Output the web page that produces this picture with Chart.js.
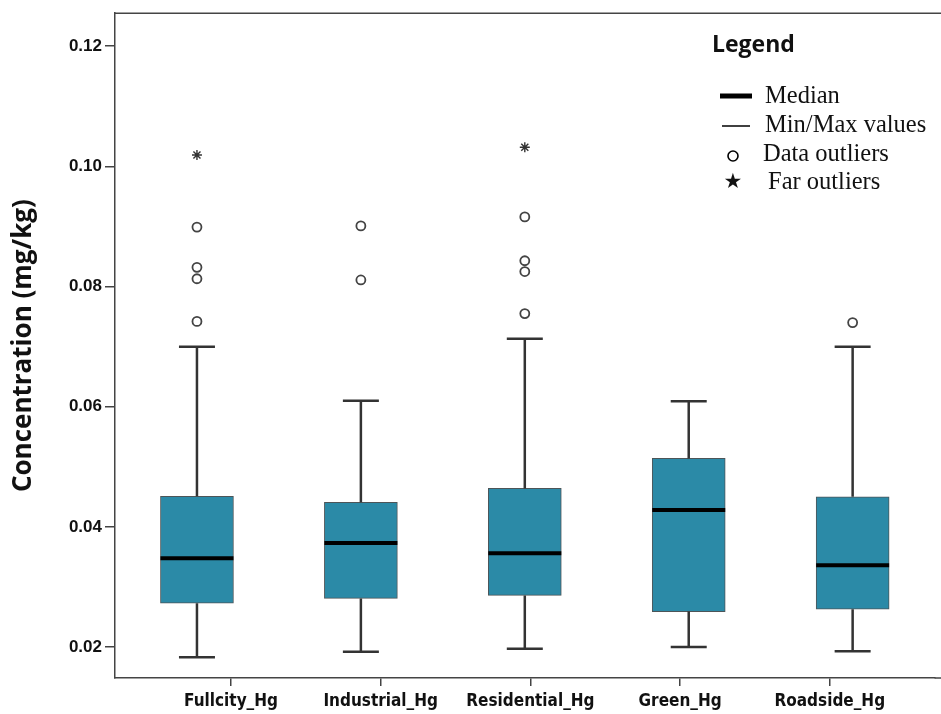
<!DOCTYPE html>
<html>
<head>
<meta charset="utf-8">
<script src="https://cdn.jsdelivr.net/npm/chart.js@4.4.1/dist/chart.umd.min.js"></script>
<style>
  html, body { margin: 0; padding: 0; background: #fff; }
  #wrap { width: 941px; height: 714px; }
</style>
</head>
<body>
<div id="wrap"><canvas id="boxChart"></canvas></div>
<script>
// box plot values (mg/kg)
const categories = ["Fullcity_Hg", "Industrial_Hg", "Residential_Hg", "Green_Hg", "Roadside_Hg"];
const minValues    = [0.0183, 0.0192, 0.0197, 0.0200, 0.0193];
const q1Values     = [0.0273, 0.0281, 0.0286, 0.0259, 0.0263];
const medianValues = [0.0348, 0.0373, 0.0356, 0.0428, 0.0336];
const q3Values     = [0.0451, 0.0441, 0.0464, 0.0514, 0.0450];
const maxValues    = [0.0700, 0.0610, 0.0713, 0.0609, 0.0700];
const outlierValues = [
  [0.0742, 0.0813, 0.0832, 0.0899],
  [0.0811, 0.0901],
  [0.0755, 0.0825, 0.0843, 0.0916],
  [],
  [0.0740]
];
const farOutlierValues = [[0.1019], [], [0.1032], [], []];
const yTicks = [0.02, 0.04, 0.06, 0.08, 0.10, 0.12];

const outlierPoints = [];
outlierValues.forEach((vals, i) => vals.forEach(v => outlierPoints.push({ x: categories[i], y: v })));
const farPoints = [];
farOutlierValues.forEach((vals, i) => vals.forEach(v => farPoints.push({ x: categories[i], y: v })));

// whiskers, caps and medians drawn from the bar elements and the y scale
const whiskerPlugin = {
  id: "whiskers",
  afterDatasetsDraw(chart) {
    const ctx = chart.ctx;
    const y = chart.scales.y;
    const bars = chart.getDatasetMeta(0).data;
    ctx.save();
    bars.forEach((bar, i) => {
      const cx = bar.x;
      const half = bar.width / 2;
      ctx.strokeStyle = "#333";
      ctx.lineWidth = 2.5;
      ctx.beginPath();
      ctx.moveTo(cx, y.getPixelForValue(q3Values[i]));
      ctx.lineTo(cx, y.getPixelForValue(maxValues[i]));
      ctx.moveTo(cx, y.getPixelForValue(q1Values[i]));
      ctx.lineTo(cx, y.getPixelForValue(minValues[i]));
      ctx.moveTo(cx - 18, y.getPixelForValue(maxValues[i]));
      ctx.lineTo(cx + 18, y.getPixelForValue(maxValues[i]));
      ctx.moveTo(cx - 18, y.getPixelForValue(minValues[i]));
      ctx.lineTo(cx + 18, y.getPixelForValue(minValues[i]));
      ctx.stroke();
      ctx.strokeStyle = "#000";
      ctx.lineWidth = 4;
      ctx.beginPath();
      ctx.moveTo(cx - half, y.getPixelForValue(medianValues[i]));
      ctx.lineTo(cx + half, y.getPixelForValue(medianValues[i]));
      ctx.stroke();
    });
    ctx.restore();
  }
};

// frame on top and hand drawn legend box
const framePlugin = {
  id: "frame",
  afterDraw(chart) {
    const ctx = chart.ctx;
    const a = chart.chartArea;
    ctx.save();
    ctx.strokeStyle = "#444";
    ctx.lineWidth = 1.5;
    ctx.beginPath();
    ctx.moveTo(a.left, a.top);
    ctx.lineTo(chart.width, a.top);
    ctx.moveTo(a.right, a.bottom);
    ctx.lineTo(chart.width, a.bottom);
    ctx.stroke();

    ctx.fillStyle = "#111";
    ctx.textBaseline = "middle";
    ctx.font = "bold 23px 'Open Sans', sans-serif";
    ctx.fillText("Legend", 712, 45);

    ctx.font = "24.5px 'Liberation Serif', 'Times New Roman', serif";
    ctx.fillText("Median", 765, 97);
    ctx.fillText("Min/Max values", 765, 126);
    ctx.fillText("Data outliers", 763, 155);
    ctx.fillText("Far outliers", 768, 183);

    ctx.strokeStyle = "#000";
    ctx.lineWidth = 5;
    ctx.beginPath();
    ctx.moveTo(720, 96);
    ctx.lineTo(752, 96);
    ctx.stroke();
    ctx.lineWidth = 1.5;
    ctx.beginPath();
    ctx.moveTo(722, 126);
    ctx.lineTo(750, 126);
    ctx.stroke();
    ctx.lineWidth = 1.6;
    ctx.beginPath();
    ctx.arc(733, 156, 5, 0, Math.PI * 2);
    ctx.stroke();
    ctx.font = "21px 'DejaVu Sans', sans-serif";
    ctx.textAlign = "center";
    ctx.fillText("\u2605", 733, 183);
    ctx.restore();
  }
};

const ctx = document.getElementById("boxChart").getContext("2d");
new Chart(ctx, {
  type: "bar",
  data: {
    labels: categories,
    datasets: [
      {
        type: "bar",
        data: categories.map((c, i) => [q1Values[i], q3Values[i]]),
        backgroundColor: "#2B8AA7",
        borderColor: "#4d5558",
        borderWidth: 1,
        borderSkipped: false,
        barThickness: 73,
        xAxisID: "x",
        order: 2
      },
      {
        type: "scatter",
        data: outlierPoints,
        pointStyle: "circle",
        radius: 4.5,
        borderWidth: 1.8,
        borderColor: "#444",
        backgroundColor: "#fff",
        xAxisID: "x",
        order: 1
      },
      {
        type: "scatter",
        data: farPoints,
        pointStyle: "star",
        radius: 5,
        borderWidth: 1.4,
        borderColor: "#333",
        xAxisID: "x",
        order: 1
      }
    ]
  },
  options: {
    responsive: true,
    maintainAspectRatio: false,
    animation: false,
    layout: { padding: { top: 12, right: 0, left: 0, bottom: 0 } },
    plugins: {
      legend: { display: false },
      tooltip: { enabled: false }
    },
    scales: {
      x: {
        type: "category",
        display: false,
        offset: true
      },
      x2: {
        type: "linear",
        position: "bottom",
        offset: false,
        min: -0.775,
        max: 4.70,
        afterFit: s => { s.height = 36; s.paddingLeft = 0; s.paddingRight = 0; },
        afterBuildTicks: s => { s.ticks = categories.map((c, i) => ({ value: i })); },
        grid: { offset: false, drawOnChartArea: false, drawTicks: true, tickLength: 8, color: "#444", lineWidth: 1.5 },
        border: { display: true, color: "#444", width: 1.5 },
        ticks: {
          autoSkip: false,
          maxRotation: 0,
          padding: 5,
          color: "#111",
          font: { family: "'DejaVu Sans Condensed', 'Liberation Sans Narrow', sans-serif", size: 17, weight: "bold" },
          callback: v => categories[v]
        }
      },
      y: {
        type: "linear",
        min: 0.01485,
        max: 0.1255,
        afterFit: s => { s.width = 115; },
        afterBuildTicks: s => { s.ticks = yTicks.map(v => ({ value: v })); },
        grid: { drawOnChartArea: false, drawTicks: true, tickLength: 10, color: "#444", lineWidth: 1.5 },
        border: { display: true, color: "#444", width: 1.5 },
        ticks: {
          padding: 3,
          color: "#111",
          font: { family: "'Liberation Sans', Arial, sans-serif", size: 17, weight: "bold" },
          callback: v => v.toFixed(2)
        },
        title: {
          display: true,
          text: "Concentration (mg/kg)",
          color: "#111",
          padding: { top: 8, bottom: 0 },
          font: { family: "'Open Sans', sans-serif", size: 26, weight: "bold" }
        }
      }
    }
  },
  plugins: [whiskerPlugin, framePlugin]
});
</script>
</body>
</html>
